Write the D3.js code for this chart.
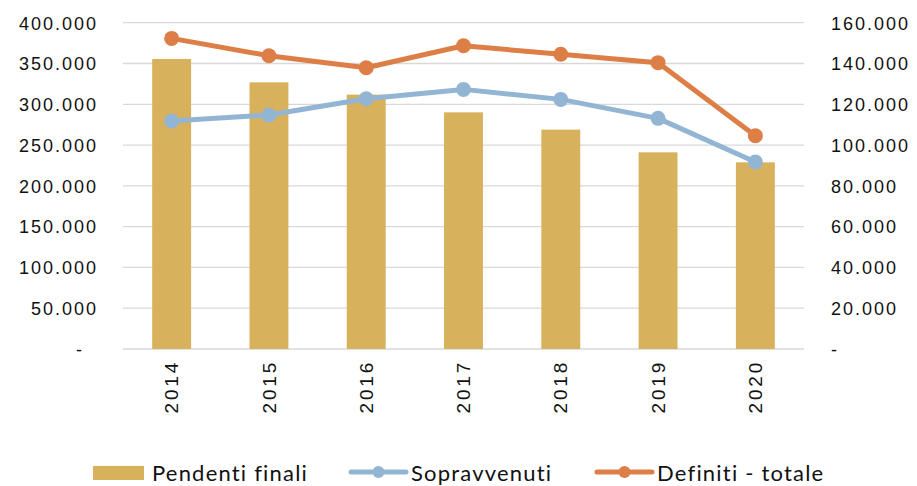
<!DOCTYPE html>
<html>
<head>
<meta charset="utf-8">
<script src="https://cdn.jsdelivr.net/npm/d3@7"></script>
<style>
  body { margin: 0; background: #fff; }
  svg { display: block; font-family: "Lato", "DejaVu Sans", sans-serif; }
</style>
</head>
<body>
<svg id="chart" width="917" height="486"></svg>
<script>
const years = ["2014", "2015", "2016", "2017", "2018", "2019", "2020"];
const pendentiFinali = [355500, 326900, 311800, 290100, 268900, 241100, 228800];
const sopravvenuti = [111800, 114700, 122700, 127300, 122400, 113100, 91700];
const definitiTotale = [152300, 143800, 137900, 148700, 144500, 140400, 104600];
const leftTicks = [0, 50000, 100000, 150000, 200000, 250000, 300000, 350000, 400000];
const rightTicks = [0, 20000, 40000, 60000, 80000, 100000, 120000, 140000, 160000];
const seriesNames = ["Pendenti finali", "Sopravvenuti", "Definiti - totale"];

const colors = { bar: "#D7B15C", blue: "#93B5D4", orange: "#DD7E47", grid: "#D9D9D9", text: "#111" };

const svg = d3.select("#chart");
const m = { left: 123, right: 804, top: 22.7, bottom: 349 };

const x = d3.scaleBand().domain(years).range([m.left, m.right]).paddingInner(0.6).paddingOuter(0.3);
const xc = d => x(d) + x.bandwidth() / 2;
const yL = d3.scaleLinear().domain([0, 400000]).range([m.bottom, m.top]);
const yR = d3.scaleLinear().domain([0, 160000]).range([m.bottom, m.top]);

const fmt = v => v === 0 ? "-" : d3.format(",")(v).replace(/,/g, ".");

// gridlines
svg.append("g").selectAll("line").data(leftTicks).join("line")
  .attr("x1", m.left).attr("x2", m.right)
  .attr("y1", d => yL(d)).attr("y2", d => yL(d))
  .attr("stroke", colors.grid).attr("stroke-width", 1.3);

// left axis
const gl = svg.append("g").attr("transform", `translate(${m.left - 25},0)`)
  .call(d3.axisLeft(yL).tickValues(leftTicks).tickFormat(fmt).tickSize(0).tickPadding(0));
gl.select(".domain").remove();
gl.selectAll("text").attr("font-size", 18).attr("fill", colors.text)
  .attr("letter-spacing", 2).attr("dy", "0.35em")
  .attr("dx", d => d === 0 ? -14 : 0);

// right axis
const gr = svg.append("g").attr("transform", `translate(${m.right + 27},0)`)
  .call(d3.axisRight(yR).tickValues(rightTicks).tickFormat(fmt).tickSize(0).tickPadding(0));
gr.select(".domain").remove();
gr.selectAll("text").attr("font-size", 18).attr("fill", colors.text)
  .attr("letter-spacing", 2).attr("dy", "0.35em");

// bars
svg.append("g").selectAll("rect").data(years).join("rect")
  .attr("x", d => x(d))
  .attr("width", x.bandwidth())
  .attr("y", (d, i) => yL(pendentiFinali[i]))
  .attr("height", (d, i) => yL(0) - yL(pendentiFinali[i]))
  .attr("fill", colors.bar);

// x axis labels
const gx = svg.append("g").attr("transform", `translate(0,${m.bottom})`)
  .call(d3.axisBottom(x).tickSize(0).tickPadding(0));
gx.select(".domain").remove();
gx.selectAll("text")
  .attr("font-size", 19).attr("fill", colors.text)
  .attr("letter-spacing", 2.8)
  .attr("text-anchor", "end")
  .attr("transform", "rotate(-90)")
  .attr("x", -11).attr("y", 0).attr("dy", "0.35em");

// lines
function drawLine(vals, color) {
  const line = d3.line().x((d, i) => xc(years[i])).y(d => yR(d));
  svg.append("path").datum(vals).attr("d", line)
    .attr("fill", "none").attr("stroke", color).attr("stroke-width", 5)
    .attr("stroke-linejoin", "round").attr("stroke-linecap", "round");
  svg.append("g").selectAll("circle").data(vals).join("circle")
    .attr("cx", (d, i) => xc(years[i])).attr("cy", d => yR(d))
    .attr("r", 7.5).attr("fill", color);
}
drawLine(sopravvenuti, colors.blue);
drawLine(definitiTotale, colors.orange);

// legend
const ly = 472;
const lg = svg.append("g").attr("font-size", 22).attr("fill", colors.text).attr("letter-spacing", 1.2);
lg.append("rect").attr("x", 93).attr("y", ly - 6).attr("width", 51).attr("height", 14).attr("fill", colors.bar);
lg.append("text").attr("x", 152).attr("y", ly + 1).attr("dy", "0.35em").text(seriesNames[0]);

const legLine = (x0, color, label) => {
  lg.append("line").attr("x1", x0).attr("x2", x0 + 55).attr("y1", ly).attr("y2", ly)
    .attr("stroke", color).attr("stroke-width", 5).attr("stroke-linecap", "round");
  lg.append("circle").attr("cx", x0 + 27.5).attr("cy", ly).attr("r", 6).attr("fill", color);
  lg.append("text").attr("x", x0 + 60).attr("y", ly + 1).attr("dy", "0.35em").text(label);
};
legLine(351, colors.blue, seriesNames[1]);
legLine(597, colors.orange, seriesNames[2]);
</script>
</body>
</html>
